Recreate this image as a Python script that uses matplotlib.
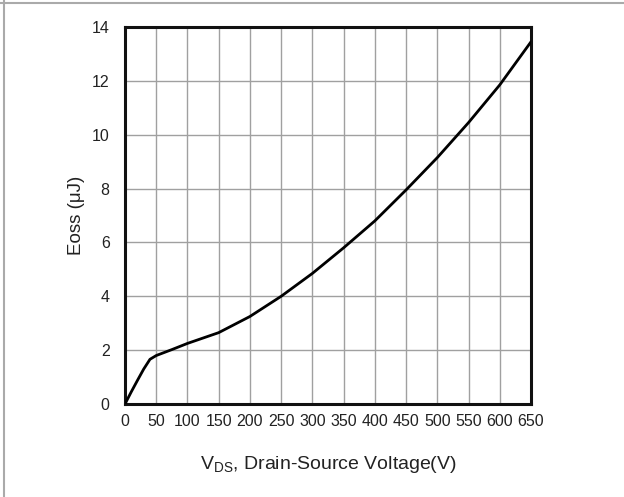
import matplotlib
matplotlib.use("Agg")
import matplotlib.pyplot as plt
from matplotlib.lines import Line2D

plt.rcParams["font.family"] = ["Liberation Sans", "DejaVu Sans"]

# Output energy vs drain-source voltage
vds = [0, 10, 20, 30, 40, 50, 75, 100, 150, 200, 250, 300, 350, 400, 450, 500, 550, 600, 650]
eoss = [0, 0.45, 0.88, 1.3, 1.66, 1.8, 2.02, 2.25, 2.65, 3.25, 4.0, 4.85, 5.8, 6.8, 7.95, 9.15, 10.45, 11.85, 13.45]

x_ticks = list(range(0, 651, 50))
y_ticks = list(range(0, 15, 2))

fig = plt.figure(figsize=(6.24, 4.97), dpi=100)
ax = fig.add_axes([125 / 624, 1 - 404 / 497, 406 / 624, 377 / 497])

ax.plot(vds, eoss, color="black", lw=2.0, solid_capstyle="round", zorder=3)

ax.set_xlim(0, 650)
ax.set_ylim(0, 14)
ax.set_xticks(x_ticks)
ax.set_yticks(y_ticks)
ax.set_xticklabels([str(v) for v in x_ticks], fontsize=11.5, color="#222222")
ax.set_yticklabels([str(v) for v in y_ticks], fontsize=11.5, color="#222222")
ax.tick_params(axis="x", length=0, pad=7)
ax.tick_params(axis="y", length=0, pad=11)
ax.grid(True, color="#a0a0a0", lw=1.0)
ax.set_axisbelow(True)
for s in ax.spines.values():
    s.set_linewidth(2.2)
    s.set_color("#111111")

ax.set_xlabel(r"V$_{\mathregular{DS}}$, Drain-Source Voltage(V)", fontsize=14,
              color="#222222", labelpad=18)
ax.set_ylabel("Eoss (μJ)", fontsize=13.5, color="#222222", labelpad=5)

# thin gray frame along the top and left edges
fig.add_artist(Line2D([0, 1], [1 - 3 / 497, 1 - 3 / 497], color="#aaaaaa", lw=1.5))
fig.add_artist(Line2D([4 / 624, 4 / 624], [0, 1], color="#aaaaaa", lw=1.5))

fig.savefig("out.png", dpi=100)
